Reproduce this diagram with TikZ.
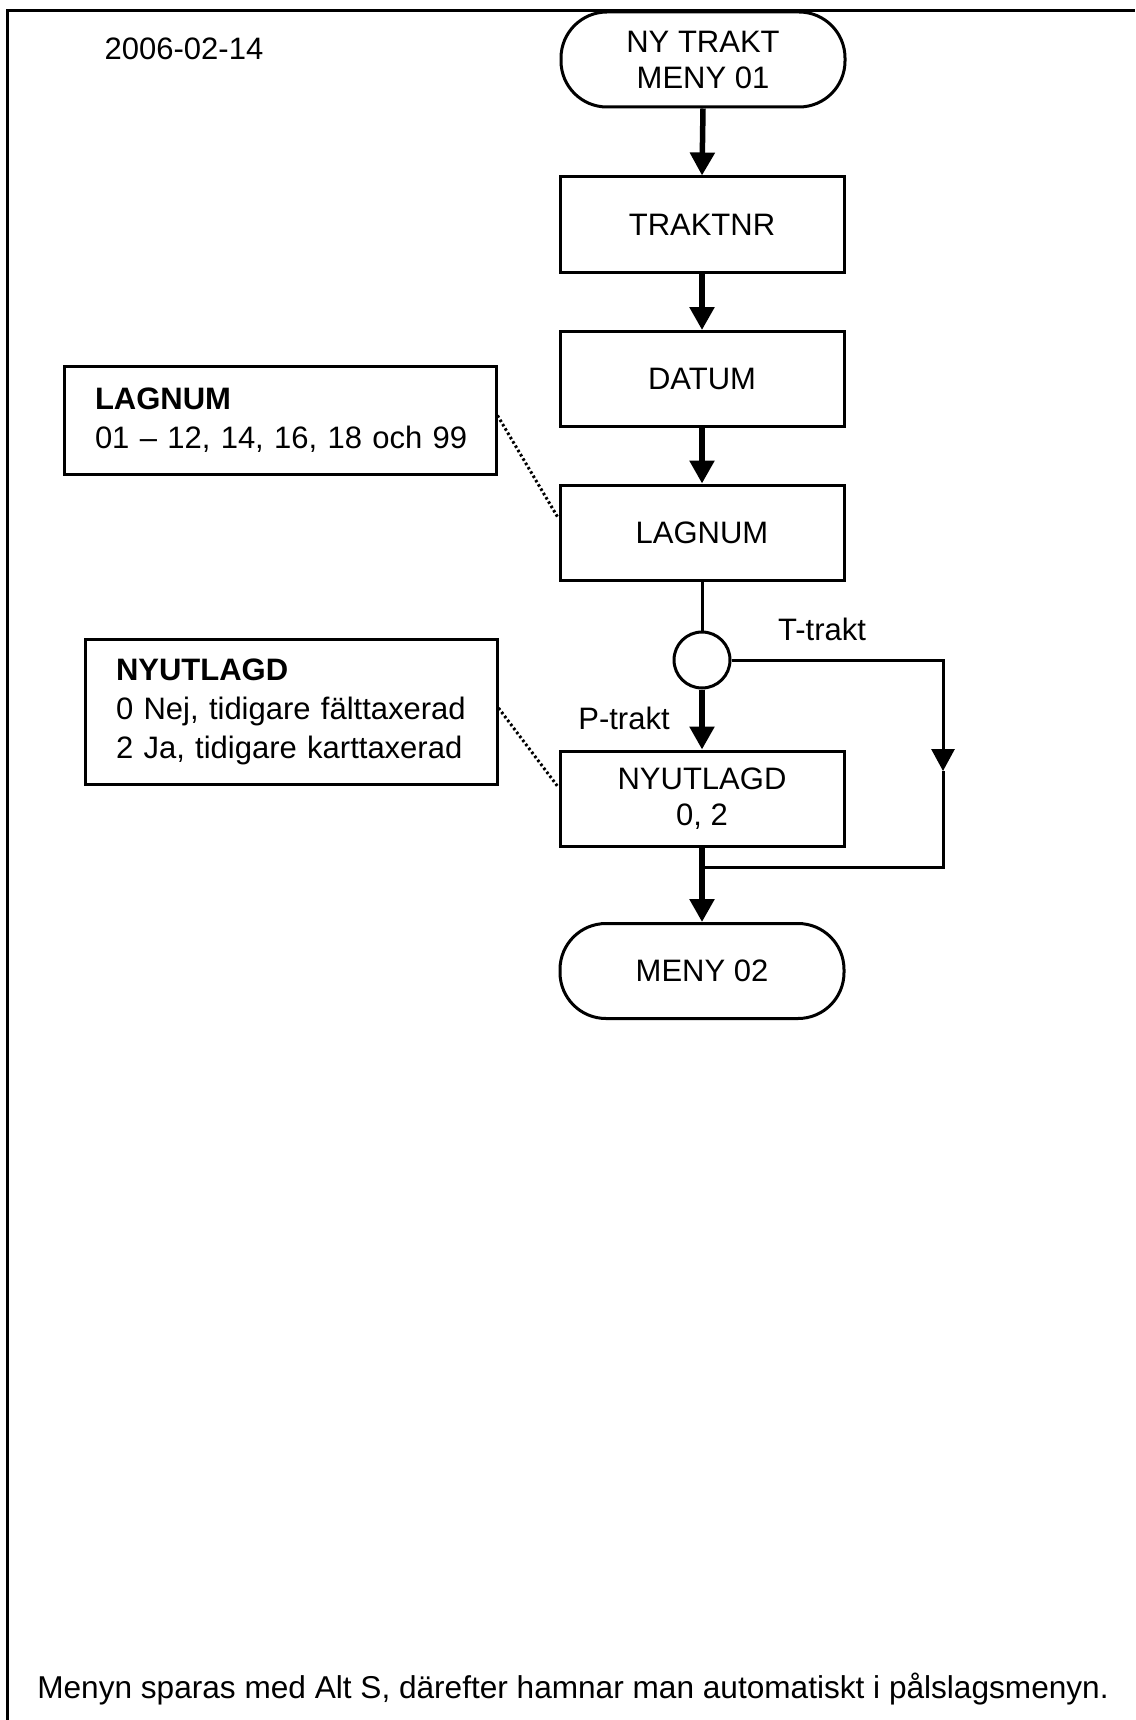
\documentclass[tikz,border=0pt]{standalone}
\usepackage{fontspec}
\setmainfont{Liberation Sans}
\usetikzlibrary{arrows.meta}
\begin{document}
\begin{tikzpicture}[x=1pt,y=-1pt,
  txt/.style={font=\fontsize{31}{36}\selectfont, inner sep=0pt},
  procbox/.style={draw, line width=3pt, minimum width=284pt, minimum height=95pt, inner sep=0pt, align=center, font=\fontsize{31}{36}\selectfont},
  termbox/.style={procbox, rounded corners=46pt},
  notebox/.style={draw, line width=3pt, inner xsep=31pt, inner ysep=0pt, align=left, font=\fontsize{31}{39}\selectfont},
  thickflow/.style={line width=5.5pt, -{Triangle[width=24pt,length=23pt]}},
  thinflow/.style={line width=3pt},
  noteline/.style={line width=3pt, dash pattern=on 2.5pt off 2.5pt}
]
\useasboundingbox (0,0) rectangle (1135,1720);
% frame
\draw[line width=3pt] (7,1720) -- (7,10.5) -- (1135,10.5);
\node[txt] (date) at (184,49) {2006-02-14};

% flow nodes
\node[termbox] (start) at (703,59.5) {NY TRAKT\\MENY 01};
\node[procbox] (traktnr) at (702,224.5) {TRAKTNR};
\node[procbox] (datum) at (702,379) {DATUM};
\node[procbox] (lagnum) at (702,532.5) {LAGNUM};
\node[draw, circle, line width=3pt, minimum size=56pt, inner sep=0pt] (circ) at (702,660) {};
\node[procbox] (nyut) at (702,798.5) {NYUTLAGD\\0, 2};
\node[termbox] (slut) at (702,971) {MENY 02};

% notes
\node[notebox, minimum width=432pt, minimum height=108pt, text width=370pt] (lagnote) at (280,420.5) {\textbf{LAGNUM}\\\mbox{01 – 12, 14, 16, 18 och 99}};
\node[notebox, minimum width=412pt, minimum height=145pt, text width=350pt] (nyutnote) at (291,711.5) {\textbf{NYUTLAGD}\\0 Nej, tidigare fälttaxerad\\2 Ja, tidigare karttaxerad};

% labels
\node[txt] (tlab) at (822,629) {T-trakt};
\node[txt] (plab) at (624,718) {P-trakt};

% helper coordinates
\coordinate (tr) at (943,660);
\coordinate (mid) at (943,771);
\coordinate (br) at (943,867);
\coordinate (merge) at (702,867);

% connectors
\draw[thickflow] (start.south) -- (traktnr.north);
\draw[thickflow] (traktnr.south) -- (datum.north);
\draw[thickflow] (datum.south) -- (lagnum.north);
\draw[thinflow] (lagnum.south) -- (circ.north);
\draw[thickflow] (circ.south) -- (nyut.north);
\draw[thinflow, -{Triangle[width=23pt,length=22pt]}] (circ.east) -- (tr) -- (mid);
\draw[thinflow] (mid) -- (br) -- (merge);
\draw[thickflow] (nyut.south) -- (slut.north);

\draw[noteline] ([yshift=5pt]lagnote.east) -- ([yshift=14pt]lagnum.west);
\draw[noteline] ([yshift=3.5pt]nyutnote.east) -- ([yshift=11pt]nyut.west);

% footer
\node[txt, font=\fontsize{31.6}{36}\selectfont] (footer) at (573,1689) {Menyn sparas med Alt S, därefter hamnar man automatiskt i pålslagsmenyn.};
\end{tikzpicture}
\end{document}
